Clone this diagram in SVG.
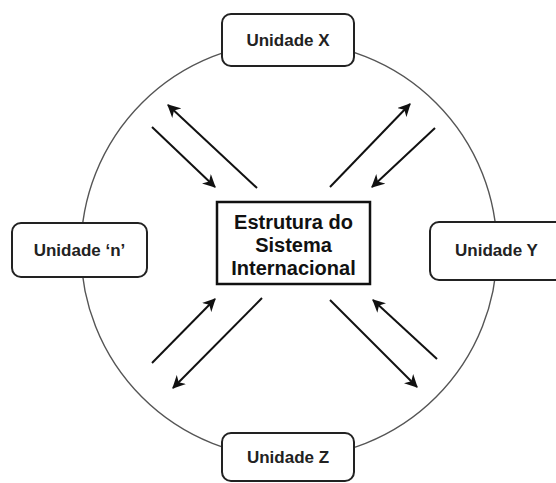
<svg xmlns="http://www.w3.org/2000/svg" width="556" height="483" viewBox="0 0 556 483">
<defs>
<style>
.unit rect{fill:#fff;stroke:#222;stroke-width:2}
.unit text{font-family:"Liberation Sans",Arial,sans-serif;font-weight:bold;font-size:17px;fill:#222;text-anchor:middle}
.center rect{fill:#fff;stroke:#111;stroke-width:2.5}
.center text{font-family:"Liberation Sans",Arial,sans-serif;font-weight:bold;font-size:20px;fill:#111;text-anchor:middle}
.arr line{stroke:#111;stroke-width:2;marker-end:url(#ah)}
</style>
<marker id="ah" markerUnits="userSpaceOnUse" viewBox="0 0 12 12" refX="11" refY="6" markerWidth="13" markerHeight="13" orient="auto">
<path d="M0,0 L12,6 L0,12 L3.5,6 z" fill="#111"/>
</marker>
</defs>
<rect width="556" height="483" fill="#fff"/>
<circle cx="289" cy="250" r="208" fill="none" stroke="#555" stroke-width="1.4"/>
<g id="connectors" class="arr">
<line x1="257" y1="188" x2="168" y2="105"/>
<line x1="152" y1="127" x2="215" y2="187"/>
<line x1="330" y1="187" x2="410" y2="104"/>
<line x1="435" y1="128" x2="372" y2="187"/>
<line x1="152" y1="363" x2="215" y2="299"/>
<line x1="262" y1="298" x2="173" y2="388"/>
<line x1="330" y1="300" x2="417" y2="387"/>
<line x1="437" y1="359" x2="373" y2="300"/>
</g>
<g id="center" class="center">
<rect x="217" y="202" width="153" height="82"/>
<text x="293.5" y="229">Estrutura do</text>
<text x="293.5" y="252">Sistema</text>
<text x="293.5" y="275">Internacional</text>
</g>
<g id="unidade-x" class="unit">
<rect x="222" y="14" width="132" height="52" rx="9"/>
<text x="288" y="46">Unidade X</text>
</g>
<g id="unidade-n" class="unit">
<rect x="12" y="223" width="135" height="54" rx="9"/>
<text x="79.5" y="256">Unidade ‘n’</text>
</g>
<g id="unidade-y" class="unit">
<rect x="430" y="222" width="134" height="58" rx="9"/>
<text x="496.5" y="256">Unidade Y</text>
</g>
<g id="unidade-z" class="unit">
<rect x="222" y="433" width="132" height="48" rx="9"/>
<text x="288" y="463">Unidade Z</text>
</g>
</svg>
